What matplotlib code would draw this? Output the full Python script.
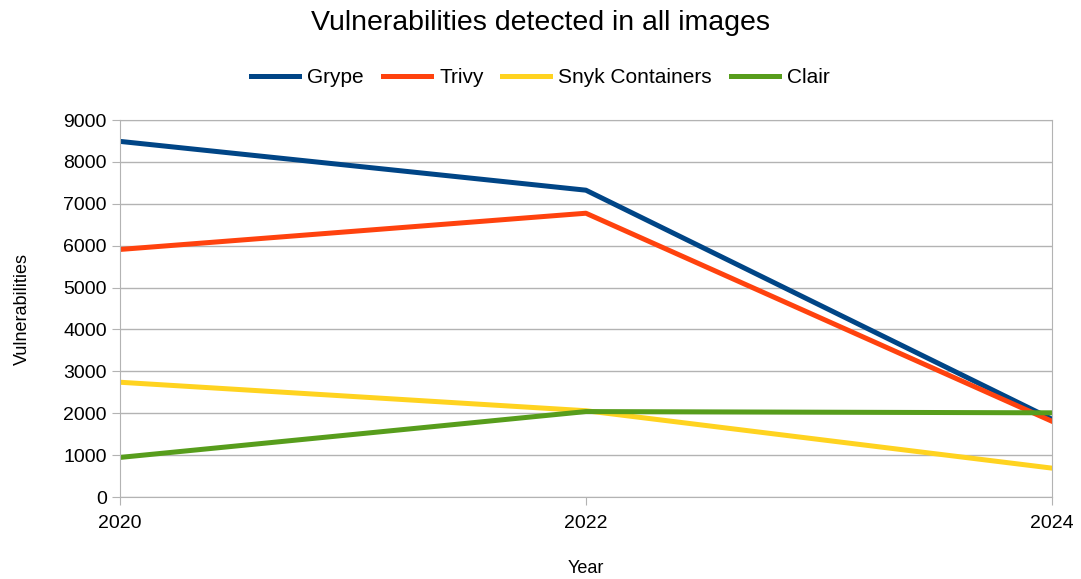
import matplotlib.pyplot as plt

# vulnerability counts per scanner
years = [2020, 2022, 2024]
grype = [8490, 7325, 1860]
trivy = [5910, 6775, 1810]
snyk = [2740, 2060, 690]
clair = [945, 2040, 2010]

plt.rcParams['font.family'] = ['Liberation Sans', 'DejaVu Sans']

fig = plt.figure(figsize=(10.81, 5.79), dpi=100)
ax = fig.add_axes([0.111, 0.1416, 0.862, 0.6511])

ax.plot(years, grype, color='#004586', lw=3.6, label='Grype')
ax.plot(years, trivy, color='#ff420e', lw=3.6, label='Trivy')
ax.plot(years, snyk, color='#ffd320', lw=3.6, label='Snyk Containers')
ax.plot(years, clair, color='#579d1c', lw=3.6, label='Clair')

ax.set_xlim(2020, 2024)
ax.set_ylim(0, 9000)
ax.set_xticks(years)
ax.set_yticks(range(0, 9001, 1000))
ax.grid(axis='y', color='#b3b3b3', lw=1)
ax.set_axisbelow(True)
for s in ax.spines.values():
    s.set_color('#b3b3b3')
ax.tick_params(colors='#b3b3b3', labelcolor='black', labelsize=14, length=6, direction='out')
ax.tick_params(axis='x', pad=7)

ax.set_xlabel('Year', fontsize=13, labelpad=20)
ax.set_ylabel('Vulnerabilities', fontsize=13, labelpad=23)

fig.suptitle('Vulnerabilities detected in all images', fontsize=20.5, y=0.982)
fig.legend(loc='upper center', bbox_to_anchor=(0.5, 0.915), ncol=4, frameon=False,
           fontsize=15, handlelength=2.3, columnspacing=0.9, handletextpad=0.4)

fig.savefig('out.png', dpi=100)
